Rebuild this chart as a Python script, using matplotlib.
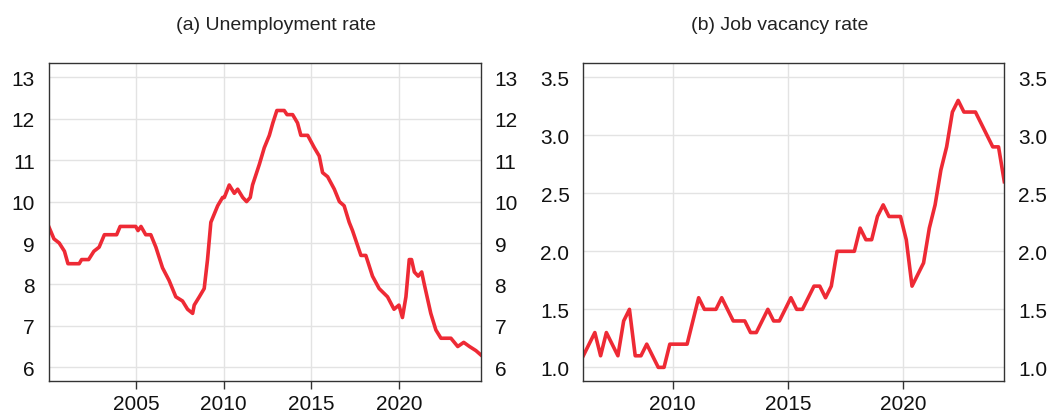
import matplotlib
matplotlib.use("Agg")
import matplotlib.pyplot as plt

plt.rcParams['font.family'] = ['Liberation Sans', 'DejaVu Sans']

# (a) unemployment rate, monthly
ue_dates = [2000.0, 2000.3, 2000.6, 2000.9, 2001.1, 2001.74, 2001.88, 2002.28, 2002.58, 2002.88,
            2003.18, 2003.88, 2004.08, 2004.97, 2005.1, 2005.27, 2005.54, 2005.83, 2006.12, 2006.5,
            2006.87, 2007.26, 2007.64, 2007.93, 2008.22, 2008.31, 2008.6, 2008.88, 2009.07, 2009.26,
            2009.65, 2009.93, 2010.03, 2010.31, 2010.6, 2010.79, 2011.08, 2011.3, 2011.51, 2011.64,
            2012.03, 2012.31, 2012.6, 2012.8, 2013.03, 2013.45, 2013.61, 2013.93, 2014.21, 2014.4,
            2014.79, 2015.17, 2015.45, 2015.64, 2015.93, 2016.31, 2016.6, 2016.87, 2017.16, 2017.35,
            2017.83, 2018.11, 2018.49, 2018.87, 2019.35, 2019.72, 2020.0, 2020.2, 2020.4, 2020.59,
            2020.72, 2020.88, 2021.1, 2021.3, 2021.45, 2021.82, 2022.11, 2022.4, 2022.97, 2023.36,
            2023.7, 2024.03, 2024.4, 2024.67]
ue_rate = [9.4, 9.1, 9.0, 8.8, 8.5, 8.5, 8.6, 8.6, 8.8, 8.9,
           9.2, 9.2, 9.4, 9.4, 9.3, 9.4, 9.2, 9.2, 8.9, 8.4,
           8.1, 7.7, 7.6, 7.4, 7.3, 7.5, 7.7, 7.9, 8.6, 9.5,
           9.9, 10.1, 10.1, 10.4, 10.2, 10.3, 10.1, 10.0, 10.1, 10.4,
           10.9, 11.3, 11.6, 11.9, 12.2, 12.2, 12.1, 12.1, 11.9, 11.6,
           11.6, 11.3, 11.1, 10.7, 10.6, 10.3, 10.0, 9.9, 9.5, 9.3,
           8.7, 8.7, 8.2, 7.9, 7.7, 7.4, 7.5, 7.2, 7.7, 8.6,
           8.6, 8.3, 8.2, 8.3, 8.0, 7.3, 6.9, 6.7, 6.7, 6.5,
           6.6, 6.5, 6.4, 6.3]

# (b) job vacancy rate, quarterly 2006Q1 - 2024Q2
jv_start = 2006
jv_rate = [1.1, 1.2, 1.3, 1.1, 1.3, 1.2, 1.1, 1.4, 1.5, 1.1,
           1.1, 1.2, 1.1, 1.0, 1.0, 1.2, 1.2, 1.2, 1.2, 1.4,
           1.6, 1.5, 1.5, 1.5, 1.6, 1.5, 1.4, 1.4, 1.4, 1.3,
           1.3, 1.4, 1.5, 1.4, 1.4, 1.5, 1.6, 1.5, 1.5, 1.6,
           1.7, 1.7, 1.6, 1.7, 2.0, 2.0, 2.0, 2.0, 2.2, 2.1,
           2.1, 2.3, 2.4, 2.3, 2.3, 2.3, 2.1, 1.7, 1.8, 1.9,
           2.2, 2.4, 2.7, 2.9, 3.2, 3.3, 3.2, 3.2, 3.2, 3.1,
           3.0, 2.9, 2.9, 2.6]
jv_dates = [jv_start + 0.125 + 0.25 * i for i in range(len(jv_rate))]

red = '#EE2A35'
W, H = 1049, 414
fig = plt.figure(figsize=(W / 100, H / 100), dpi=100)
ax1 = fig.add_axes([48.7 / W, 1 - 382.3 / H, 432 / W, 318 / H])
ax2 = fig.add_axes([583.3 / W, 1 - 382.3 / H, 421 / W, 318 / H])


def style(ax, xticks, yticks, ylim, fmt):
    ax.set_ylim(*ylim)
    ax.set_xticks(xticks)
    ax.set_yticks(yticks)
    ax.set_yticklabels([fmt.format(v) for v in yticks])
    ax.grid(True, color='#e3e3e3', linewidth=1)
    ax.set_axisbelow(True)
    ax.tick_params(axis='x', length=6, width=1, color='#333333', pad=3,
                   labelsize=15, labelcolor='#111111')
    ax.tick_params(axis='y', length=0, pad=10, labelsize=15, labelcolor='#111111',
                   labelleft=True, labelright=True)
    for s in ax.spines.values():
        s.set_color('#333333')
        s.set_linewidth(1)


ax1.plot(ue_dates, ue_rate, color=red, linewidth=2.6)
ax1.set_xlim(min(ue_dates), max(ue_dates))
style(ax1, [2005, 2010, 2015, 2020], [6, 7, 8, 9, 10, 11, 12, 13], (5.66, 13.34), '{:.0f}')

ax2.plot(jv_dates, jv_rate, color=red, linewidth=2.6)
ax2.set_xlim(min(jv_dates), max(jv_dates))
style(ax2, [2010, 2015, 2020], [1.0, 1.5, 2.0, 2.5, 3.0, 3.5], (0.88, 3.62), '{:.1f}')

fig.text(276 / W, 1 - 25 / H, '(a) Unemployment rate', ha='center', va='center',
         fontsize=14, color='#222222')
fig.text(780 / W, 1 - 25 / H, '(b) Job vacancy rate', ha='center', va='center',
         fontsize=14, color='#222222')

fig.savefig('out.png', dpi=100)
